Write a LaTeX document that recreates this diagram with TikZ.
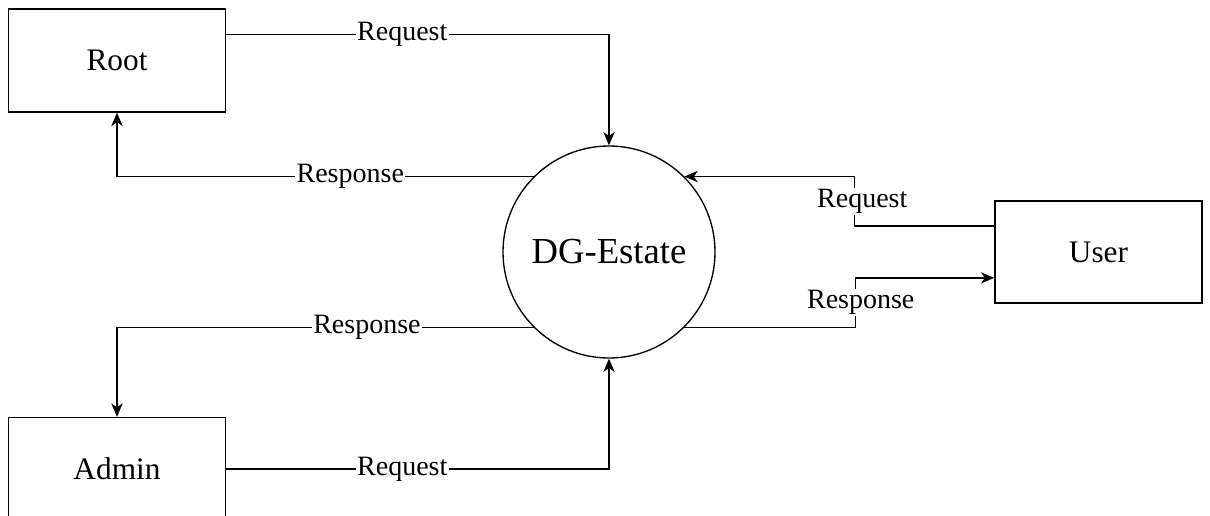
\documentclass[tikz,border=0pt]{standalone}
\usepackage{fontspec}
\setmainfont{Liberation Serif}
\usetikzlibrary{arrows.meta,calc}
\begin{document}
\begin{tikzpicture}[x=0.75pt,y=-0.75pt]
\tikzset{kasten/.style={draw,line width=1.1pt,minimum width=162.75pt,minimum height=77.25pt,font=\fontsize{23.5}{28}\selectfont}}
\tikzset{prozess/.style={draw,circle,line width=1pt,minimum size=159pt,inner sep=0pt,font=\fontsize{27.5}{32}\selectfont}}
\tikzset{pfeil/.style={-{Stealth[length=10pt,width=8.5pt,inset=3pt]},line width=1.1pt}}
\tikzset{beschriftung/.style={fill=white,inner sep=1pt,font=\fontsize{21}{25}\selectfont}}
\useasboundingbox (0,0) rectangle (1210,515);
\node [kasten] (root) at (117,60.5) {Root};
\node [kasten] (admin) at (117,469) {Admin};
\node [kasten,minimum width=155.25pt,minimum height=76.5pt] (user) at (1098.5,252) {User};
\node [prozess] (dg) at (609,252) {DG-Estate};
\draw[pfeil] ($(root.north east)!.25!(root.south east)$) -| node[beschriftung,pos=.23]{Request} (dg.north);
\draw[pfeil] (dg.135) -| node[beschriftung,pos=.22]{Response} (root.south);
\draw[pfeil] (dg.-135) -| node[beschriftung,pos=.2]{Response} (admin.north);
\draw[pfeil] (admin.east) -| node[beschriftung,pos=.23]{Request} (dg.south);
\draw[pfeil] ($(user.north west)!.25!(user.south west)$) -- ++(-140,0) |- node[beschriftung,pos=.25,xshift=6pt]{Request} (dg.45);
\draw[pfeil] (dg.-45) -- ++(171,0) |- node[beschriftung,pos=.25,xshift=4pt]{Response} ($(user.north west)!.75!(user.south west)$);
\end{tikzpicture}
\end{document}
